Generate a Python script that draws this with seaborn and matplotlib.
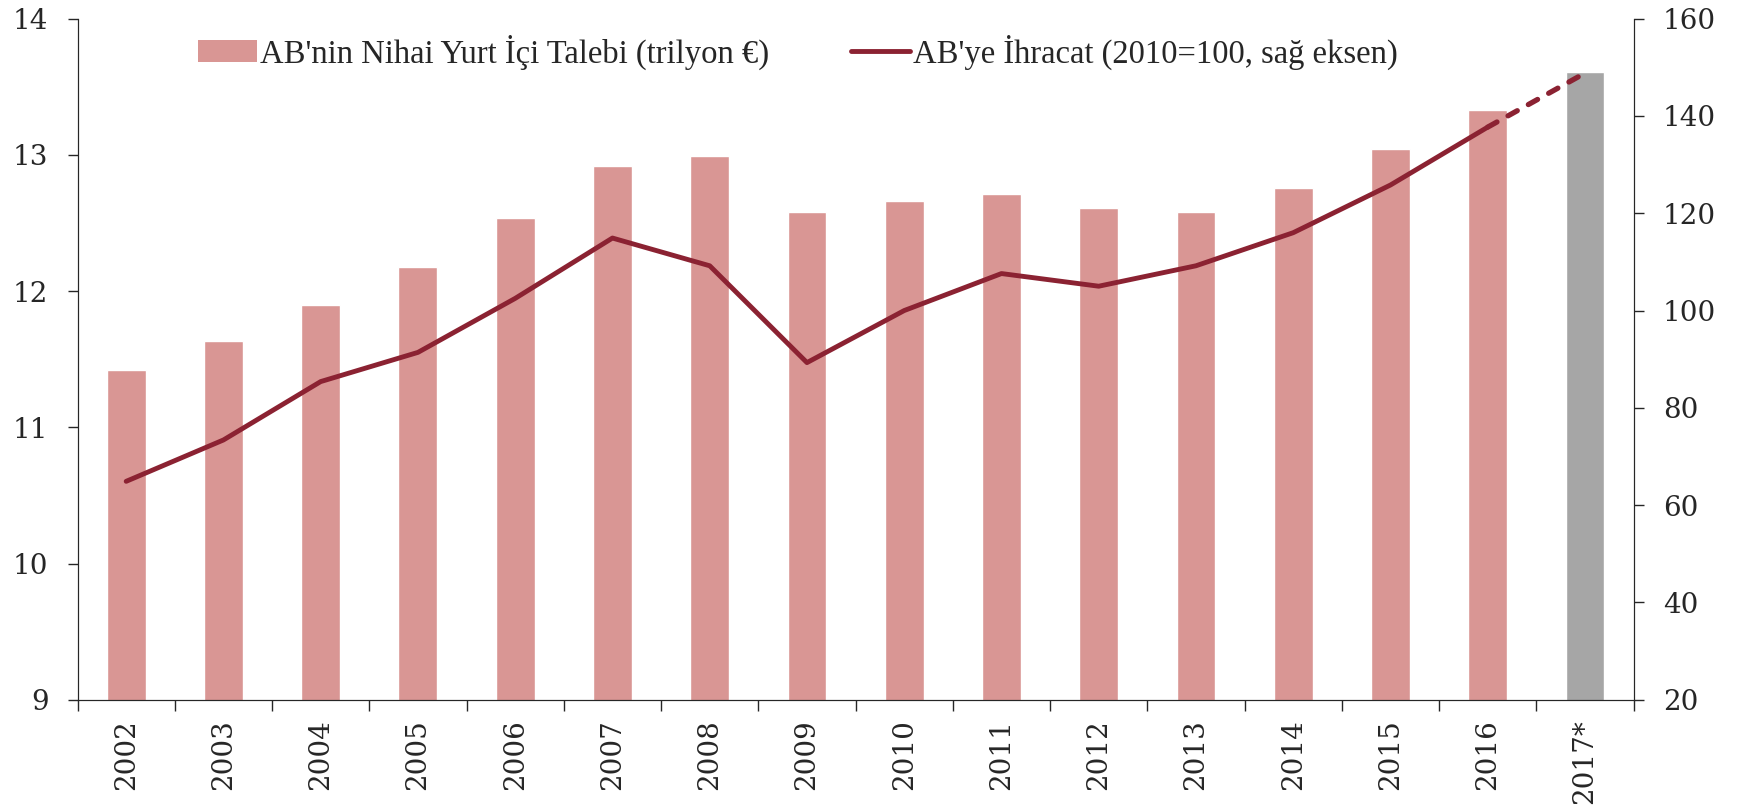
import matplotlib
matplotlib.use("Agg")
import matplotlib.pyplot as plt
import seaborn as sns
import numpy as np
import pandas as pd
from matplotlib.patches import Patch
from matplotlib.lines import Line2D

years = ["2002", "2003", "2004", "2005", "2006", "2007", "2008", "2009",
         "2010", "2011", "2012", "2013", "2014", "2015", "2016", "2017*"]
demand = [11.42, 11.63, 11.90, 12.18, 12.54, 12.92, 12.99, 12.58,
          12.66, 12.71, 12.61, 12.58, 12.76, 13.04, 13.33, 13.61]
exports = [64.9, 73.4, 85.4, 91.4, 102.5, 114.9, 109.2, 89.3,
           100.0, 107.6, 105.0, 109.2, 116.0, 125.8, 137.7, 148.8]

bar_color = "#D99694"
proj_color = "#A6A6A6"
line_color = "#8B2232"

sns.set_style("ticks")
plt.rcParams["font.family"] = ["DejaVu Serif", "Liberation Serif"]

df = pd.DataFrame({"year": years, "demand": demand})
pos = np.arange(len(years))
palette = [bar_color] * (len(years) - 1) + [proj_color]

fig = plt.figure(figsize=(17.39, 8.09), dpi=100)
ax = fig.add_axes([0.0446, 0.135, 0.8948, 0.842])
sns.barplot(data=df, x="year", y="demand", hue="year", palette=palette,
            width=0.4, legend=False, saturation=1, ax=ax)
ax.set_ylim(9, 14)
ax.set_xlim(-0.5, len(years) - 0.5)
ax.set_xlabel("")
ax.set_ylabel("")

# exports on the right axis, dashed for the 2017 estimate
ax2 = ax.twinx()
sns.lineplot(x=pos[:-1], y=exports[:-1], color=line_color, linewidth=3.5, ax=ax2)
sns.lineplot(x=pos[-2:], y=exports[-2:], color=line_color, linewidth=3.8,
             linestyle=(0, (2.0, 2.4)), ax=ax2)
ax2.lines[-1].set_dash_capstyle("round")
ax2.set_ylim(20, 160)
ax2.set_yticks(range(20, 161, 20))

for a in (ax, ax2):
    a.spines["top"].set_visible(False)
    a.tick_params(axis="y", labelsize=20, length=7, width=1, direction="out", pad=14)
ax.spines["right"].set_visible(True)

ax.set_xticks(pos)
ax.set_xticklabels(years, rotation=90, fontsize=20)
ax.tick_params(axis="x", which="major", length=0, pad=14)
ax.set_xticks(np.arange(-0.5, len(years), 1.0), minor=True)
ax.tick_params(axis="x", which="minor", length=8, width=1, direction="out")

handles = [Patch(facecolor=bar_color, edgecolor="none"),
           Line2D([0], [0], color=line_color, linewidth=3.5)]
labels = ["AB'nin Nihai Yurt İçi Talebi (trilyon €)",
          "AB'ye İhracat (2010=100, sağ eksen)"]
ax.legend(handles, labels, loc="upper center", bbox_to_anchor=(0.463, 1.02),
          ncol=2, frameon=False, handlelength=1.8,
          handletextpad=0.1, columnspacing=2.5,
          prop={"family": "Liberation Serif", "size": 23.5})

fig.savefig("out.png", dpi=100)
